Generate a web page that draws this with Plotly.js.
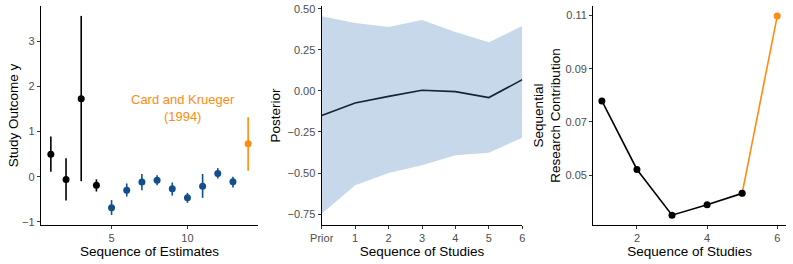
<!DOCTYPE html>
<html><head><meta charset="utf-8">
<script src="https://cdn.plot.ly/plotly-3.0.1.min.js"></script>
<style>html,body{margin:0;padding:0;background:#fff}#plot{width:793px;height:264px}</style>
</head><body><div id="plot"></div>
<script>
// Panel 1: study estimates
const estIndex = [1,2,3,4,5,6,7,8,9,10,11,12,13,14];
const estY     = [0.50,-0.06,1.73,-0.19,-0.69,-0.30,-0.12,-0.08,-0.27,-0.47,-0.21,0.07,-0.11,0.73];
const estHi    = [0.89,0.41,3.57,-0.06,-0.52,-0.15,0.06,0.03,-0.13,-0.36,0.06,0.19,0.00,1.32];
const estLo    = [0.11,-0.53,-0.10,-0.33,-0.85,-0.44,-0.30,-0.19,-0.42,-0.58,-0.47,-0.04,-0.24,0.13];
const estGroup = ['k','k','k','k','b','b','b','b','b','b','b','b','b','o'];
// Panel 2: posterior
const postLabels = ['Prior','1','2','3','4','5','6'];
const postX    = [0,1,2,3,4,5,6];
const postMean = [-0.150,-0.073,-0.033,0.004,-0.004,-0.040,0.069];
const postHi   = [0.455,0.415,0.390,0.433,0.360,0.297,0.396];
const postLo   = [-0.748,-0.575,-0.500,-0.453,-0.392,-0.376,-0.285];
// Panel 3: sequential research contribution
const studyX   = [1,2,3,4,5,6];
const contrib  = [0.0779,0.0521,0.0349,0.0388,0.0431,0.1098];

const BLACK='#000000', BLUE='#134f8d', ORANGE='#ff8c0f';
const colors = {k:BLACK,b:BLUE,o:ORANGE};
const traces = [];
['k','b','o'].forEach(g=>{
  const idx = estIndex.map((v,i)=>i).filter(i=>estGroup[i]===g);
  traces.push({
    x: idx.map(i=>estIndex[i]), y: idx.map(i=>estY[i]),
    xaxis:'x', yaxis:'y', type:'scatter', mode:'markers',
    marker:{color:colors[g], size:7},
    error_y:{type:'data', symmetric:false,
      array: idx.map(i=>estHi[i]-estY[i]),
      arrayminus: idx.map(i=>estY[i]-estLo[i]),
      width:0, thickness:1.6, color:colors[g]},
    showlegend:false, hoverinfo:'skip'
  });
});
// ribbon
traces.push({x:postX, y:postLo, xaxis:'x2', yaxis:'y2', type:'scatter', mode:'lines',
  line:{width:0,color:'rgba(0,0,0,0)'}, showlegend:false, hoverinfo:'skip'});
traces.push({x:postX, y:postHi, xaxis:'x2', yaxis:'y2', type:'scatter', mode:'lines',
  fill:'tonexty', fillcolor:'#c6d8e9', line:{width:0,color:'rgba(0,0,0,0)'}, showlegend:false, hoverinfo:'skip'});
traces.push({x:postX, y:postMean, xaxis:'x2', yaxis:'y2', type:'scatter', mode:'lines',
  line:{width:1.6,color:'#162335'}, showlegend:false, hoverinfo:'skip'});
// panel 3
traces.push({x:studyX.slice(4), y:contrib.slice(4), xaxis:'x3', yaxis:'y3', type:'scatter', mode:'lines+markers',
  line:{width:1.6,color:ORANGE}, marker:{size:7,color:ORANGE}, showlegend:false, hoverinfo:'skip'});
traces.push({x:studyX.slice(0,5), y:contrib.slice(0,5), xaxis:'x3', yaxis:'y3', type:'scatter', mode:'lines+markers',
  line:{width:1.6,color:BLACK}, marker:{size:7,color:BLACK}, showlegend:false, hoverinfo:'skip'});

const FONT = 'Liberation Sans, Arial, sans-serif';
const tickFont = {family:FONT, size:11, color:'#4d4d4d'};
const titleFont = {family:FONT, size:13.5, color:'#000'};
function ax(extra){
  return Object.assign({
    showline:true, linecolor:'#000', linewidth:1.2, mirror:false,
    showgrid:false, zeroline:false, ticks:'outside', ticklen:3, tickwidth:1, tickcolor:'#333',
    tickfont:tickFont, automargin:false, fixedrange:true
  }, extra);
}
const yd = [1-225/264, 1-6/264];
const layout = {
  width:793, height:264, margin:{l:0,r:0,t:0,b:0},
  paper_bgcolor:'#fff', plot_bgcolor:'#fff', font:{family:FONT},
  xaxis: ax({domain:[41/793,258/793], anchor:'y', range:[0.35,14.65], tickvals:[5,10],
    title:{text:'Sequence of Estimates', font:titleFont, standoff:2}}),
  yaxis: ax({domain:yd, anchor:'x', range:[-1.073,3.79], tickvals:[-1,0,1,2,3], ticktext:['\u22121','0','1','2','3'],
    title:{text:'Study Outcome y', font:titleFont, standoff:0}}),
  xaxis2: ax({domain:[321.7/793,522.3/793], anchor:'y2', range:[0,6], tickvals:postX, ticktext:postLabels,
    title:{text:'Sequence of Studies', font:titleFont, standoff:2}}),
  yaxis2: ax({domain:yd, anchor:'x2', range:[-0.817,0.518], tickvals:[-0.75,-0.5,-0.25,0,0.25,0.5],
    ticktext:['\u22120.75','\u22120.50','\u22120.25','0.00','0.25','0.50'],
    title:{text:'Posterior', font:titleFont, standoff:3}}),
  xaxis3: ax({domain:[593.3/793,786/793], anchor:'y3', range:[0.755,6.25], tickvals:[2,4,6],
    title:{text:'Sequence of Studies', font:titleFont, standoff:2}}),
  yaxis3: ax({domain:yd, anchor:'x3', range:[0.0312,0.1136], tickvals:[0.05,0.07,0.09,0.11],
    ticktext:['0.05','0.07','0.09','0.11'],
    title:{text:'Sequential<br>Research Contribution', font:titleFont, standoff:1}}),
  annotations:[{xref:'x', yref:'y', x:9.7, y:1.52, text:'Card and Krueger<br>(1994)', showarrow:false,
    font:{family:FONT, size:13, color:ORANGE}, align:'center'}]
};
Plotly.newPlot('plot', traces, layout, {staticPlot:true, displayModeBar:false});
</script></body></html>
